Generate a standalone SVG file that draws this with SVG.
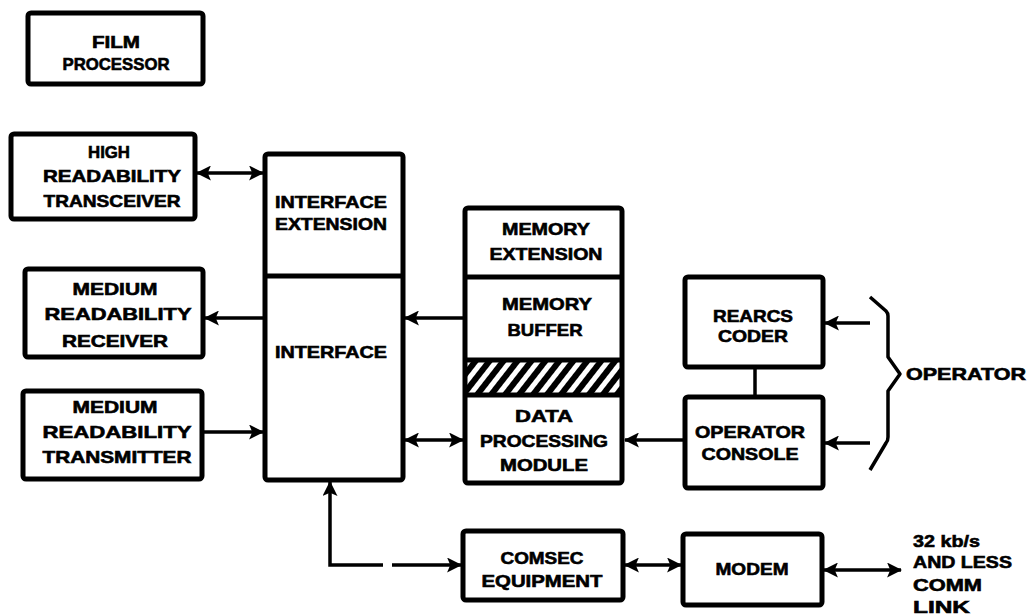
<svg xmlns="http://www.w3.org/2000/svg" width="1029" height="616" viewBox="0 0 1029 616">
<style>
.box{fill:#fff;stroke:#000;stroke-width:5;stroke-linejoin:round}
.div{stroke:#000;stroke-width:5;fill:none}
.ln{stroke:#000;stroke-width:3.5;fill:none}
text{font-family:"Liberation Sans",Arial,sans-serif;font-weight:bold;font-size:17px;fill:#000;stroke:#000;stroke-width:0.6;text-anchor:middle}
.lbl{text-anchor:start}
</style>
<defs>
<marker id="ah" viewBox="0 0 14 14" refX="13" refY="7" markerWidth="15" markerHeight="15" markerUnits="userSpaceOnUse" orient="auto-start-reverse">
<path d="M0,0 L14,7 L0,14 L3,7 z" fill="#000"/>
</marker>
<pattern id="hatch" patternUnits="userSpaceOnUse" width="11" height="11" patternTransform="rotate(38)">
<rect x="0" y="0" width="11" height="11" fill="#fff"/>
<rect x="0" y="0" width="6" height="11" fill="#000"/>
</pattern>
</defs>
<rect width="1029" height="616" fill="#fff"/>

<g id="film-processor">
<rect class="box" x="28" y="13" width="175" height="71" rx="3"/>
<text x="116" y="48" textLength="48" lengthAdjust="spacingAndGlyphs">FILM</text>
<text x="116" y="70" textLength="107" lengthAdjust="spacingAndGlyphs">PROCESSOR</text>
</g>

<g id="high-readability-transceiver">
<rect class="box" x="11" y="134" width="184" height="85" rx="3"/>
<text x="109" y="158" textLength="42" lengthAdjust="spacingAndGlyphs">HIGH</text>
<text x="112" y="182" textLength="138" lengthAdjust="spacingAndGlyphs">READABILITY</text>
<text x="112" y="207" textLength="137" lengthAdjust="spacingAndGlyphs">TRANSCEIVER</text>
</g>

<g id="medium-readability-receiver">
<rect class="box" x="25" y="269" width="178" height="88" rx="3"/>
<text x="115" y="295" textLength="85" lengthAdjust="spacingAndGlyphs">MEDIUM</text>
<text x="118" y="320" textLength="147" lengthAdjust="spacingAndGlyphs">READABILITY</text>
<text x="115" y="347" textLength="106" lengthAdjust="spacingAndGlyphs">RECEIVER</text>
</g>

<g id="medium-readability-transmitter">
<rect class="box" x="23" y="391" width="179" height="88" rx="3"/>
<text x="115" y="413" textLength="85" lengthAdjust="spacingAndGlyphs">MEDIUM</text>
<text x="117" y="438" textLength="149" lengthAdjust="spacingAndGlyphs">READABILITY</text>
<text x="117" y="463" textLength="149" lengthAdjust="spacingAndGlyphs">TRANSMITTER</text>
</g>

<g id="interface">
<rect class="box" x="265" y="154" width="138" height="326" rx="3"/>
<line class="div" x1="265" y1="276" x2="403" y2="276"/>
<text x="331" y="208" textLength="112" lengthAdjust="spacingAndGlyphs">INTERFACE</text>
<text x="331" y="230" textLength="112" lengthAdjust="spacingAndGlyphs">EXTENSION</text>
<text x="331" y="358" textLength="112" lengthAdjust="spacingAndGlyphs">INTERFACE</text>
</g>

<g id="memory-stack">
<rect x="465" y="360" width="157" height="35" fill="url(#hatch)"/>
<rect class="box" x="465" y="208" width="157" height="275" rx="3" style="fill:none"/>
<line class="div" x1="465" y1="277" x2="622" y2="277"/>
<line class="div" x1="465" y1="360" x2="622" y2="360"/>
<line class="div" x1="465" y1="395" x2="622" y2="395"/>
<text x="546" y="235" textLength="88" lengthAdjust="spacingAndGlyphs">MEMORY</text>
<text x="546" y="260" textLength="113" lengthAdjust="spacingAndGlyphs">EXTENSION</text>
<text x="547" y="310" textLength="90" lengthAdjust="spacingAndGlyphs">MEMORY</text>
<text x="545" y="336" textLength="75" lengthAdjust="spacingAndGlyphs">BUFFER</text>
<text x="544" y="422" textLength="58" lengthAdjust="spacingAndGlyphs">DATA</text>
<text x="544" y="447" textLength="128" lengthAdjust="spacingAndGlyphs">PROCESSING</text>
<text x="544" y="471" textLength="88" lengthAdjust="spacingAndGlyphs">MODULE</text>
</g>

<g id="rearcs-coder">
<rect class="box" x="685" y="277" width="138" height="90" rx="3"/>
<text x="753" y="322" textLength="80" lengthAdjust="spacingAndGlyphs">REARCS</text>
<text x="753" y="342" textLength="70" lengthAdjust="spacingAndGlyphs">CODER</text>
</g>

<g id="operator-console">
<rect class="box" x="685" y="397" width="138" height="91" rx="3"/>
<text x="750" y="438" textLength="110" lengthAdjust="spacingAndGlyphs">OPERATOR</text>
<text x="750" y="460" textLength="97" lengthAdjust="spacingAndGlyphs">CONSOLE</text>
</g>

<g id="operator">
<path class="ln" d="M870,297 L886,311 Q888,313 888,316 L888,357 L900,374 L888,391 L888,437 Q888,441 886,443 L870,470" stroke-width="4" stroke-linejoin="round"/>
<text class="lbl" x="906" y="380" textLength="120" lengthAdjust="spacingAndGlyphs">OPERATOR</text>
</g>

<g id="comsec-equipment">
<rect class="box" x="463" y="531" width="160" height="69" rx="3"/>
<text x="542" y="564" textLength="83" lengthAdjust="spacingAndGlyphs">COMSEC</text>
<text x="542" y="587" textLength="121" lengthAdjust="spacingAndGlyphs">EQUIPMENT</text>
</g>

<g id="modem">
<rect class="box" x="683" y="534" width="139" height="71" rx="3"/>
<text x="752" y="575" textLength="73" lengthAdjust="spacingAndGlyphs">MODEM</text>
</g>

<g id="comm-link">
<text class="lbl" x="913" y="547" textLength="67" lengthAdjust="spacingAndGlyphs">32 kb/s</text>
<text class="lbl" x="913" y="568" textLength="99" lengthAdjust="spacingAndGlyphs">AND LESS</text>
<text class="lbl" x="913" y="591" textLength="69" lengthAdjust="spacingAndGlyphs">COMM</text>
<text class="lbl" x="913" y="613" textLength="57" lengthAdjust="spacingAndGlyphs">LINK</text>
</g>

<g id="connectors">
<line class="ln" x1="197" y1="173" x2="263" y2="173" marker-start="url(#ah)" marker-end="url(#ah)"/>
<line class="ln" x1="263" y1="318" x2="205" y2="318" marker-end="url(#ah)"/>
<line class="ln" x1="204" y1="432" x2="263" y2="432" marker-end="url(#ah)"/>
<line class="ln" x1="463" y1="318" x2="405" y2="318" marker-end="url(#ah)"/>
<line class="ln" x1="405" y1="440" x2="463" y2="440" marker-start="url(#ah)" marker-end="url(#ah)"/>
<line class="ln" x1="683" y1="440" x2="625" y2="440" marker-end="url(#ah)"/>
<line class="ln" x1="755" y1="369" x2="755" y2="395"/>
<line class="ln" x1="870" y1="323" x2="825" y2="323" marker-end="url(#ah)"/>
<line class="ln" x1="870" y1="443" x2="825" y2="443" marker-end="url(#ah)"/>
<path class="ln" d="M383,565 H330 V482" marker-end="url(#ah)"/>
<line class="ln" x1="392" y1="565" x2="461" y2="565" marker-end="url(#ah)"/>
<line class="ln" x1="625" y1="565" x2="681" y2="565" marker-start="url(#ah)" marker-end="url(#ah)"/>
<line class="ln" x1="824" y1="570" x2="901" y2="570" marker-start="url(#ah)" marker-end="url(#ah)"/>
</g>
</svg>
